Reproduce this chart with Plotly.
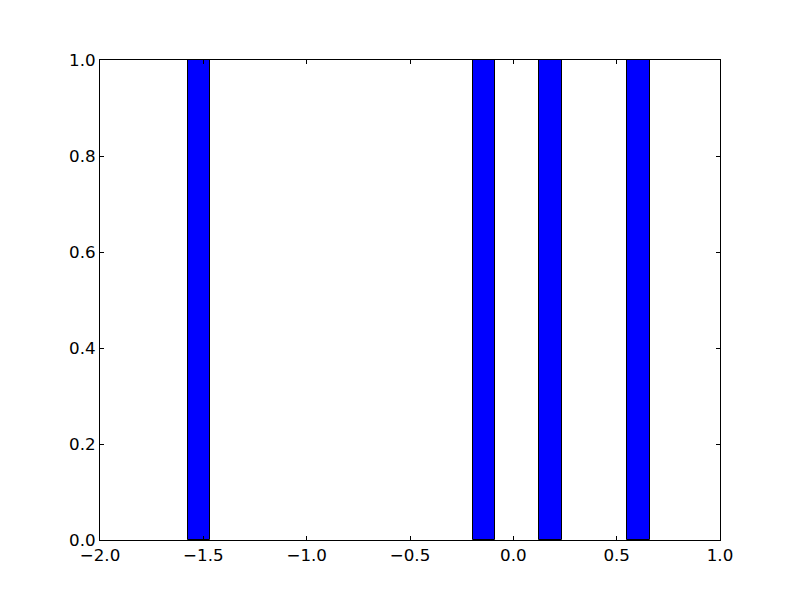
import plotly.graph_objects as go

bin_left = [-1.5766, -0.1937, 0.1256, 0.5500]
bin_right = [-1.4677, -0.0873, 0.2340, 0.6598]
counts = [1, 1, 1, 1]

centers = [(a + b) / 2 for a, b in zip(bin_left, bin_right)]
widths = [b - a for a, b in zip(bin_left, bin_right)]

fig = go.Figure(go.Bar(
    x=centers, y=counts, width=widths,
    marker=dict(color="#0000ff", line=dict(color="black", width=1)),
))

axis_common = dict(
    showgrid=False, zeroline=False, showline=True, linecolor="black", linewidth=1,
    mirror="ticks", ticks="inside", ticklen=4, tickcolor="black", tickwidth=1,
    tickfont=dict(family="DejaVu Sans", size=16.7, color="black"),
)
fig.update_xaxes(range=[-2.0, 1.0], tick0=-2.0, dtick=0.5, tickformat=".1f", **axis_common)
fig.update_yaxes(range=[0, 1.0], tick0=0, dtick=0.2, tickformat=".1f", **axis_common)

fig.update_layout(
    width=792, height=592,
    margin=dict(l=92, r=80, t=52, b=60),
    plot_bgcolor="white", paper_bgcolor="white",
    showlegend=False, bargap=0,
)
fig.write_html("out.html")
